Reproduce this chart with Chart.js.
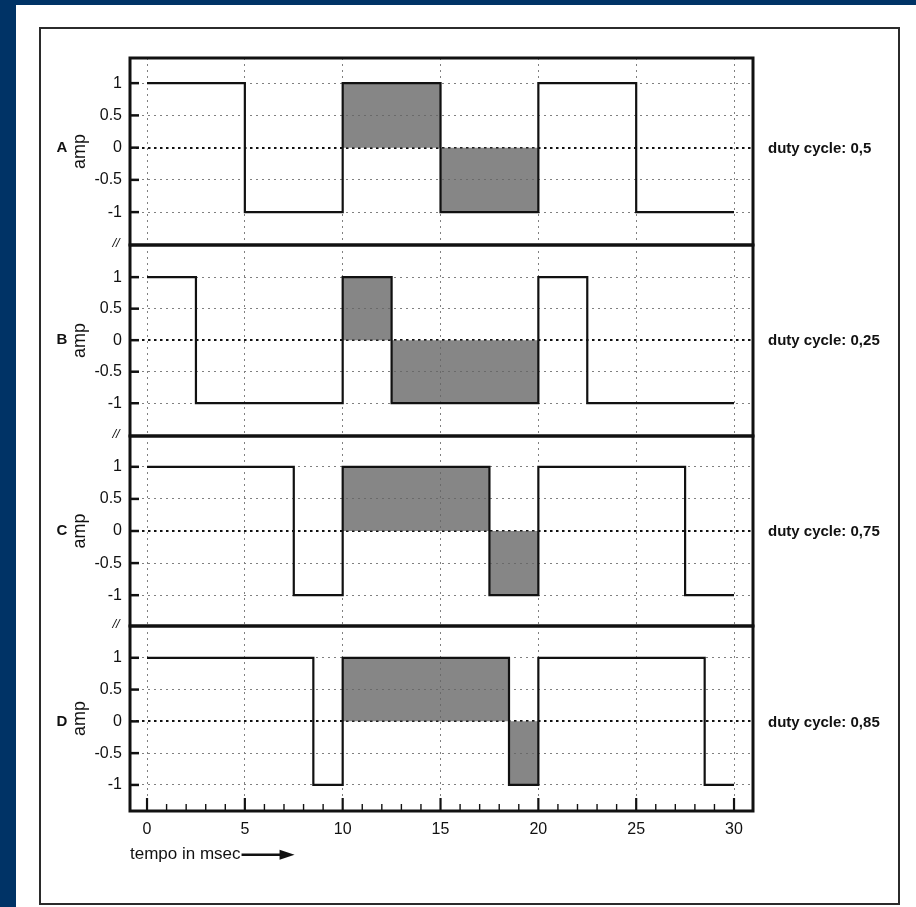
<!DOCTYPE html>
<html>
<head>
<meta charset="utf-8">
<script src="https://cdn.jsdelivr.net/npm/chart.js@4.4.1/dist/chart.umd.min.js"></script>
<style>
html,body{margin:0;padding:0;background:#003366;width:916px;height:907px;overflow:hidden}
#paper{position:absolute;left:16px;top:5px;width:900px;height:902px;background:#fff}
#frame{position:absolute;left:39px;top:27px;width:857px;height:874px;border:2px solid #2b2b2b}
canvas{position:absolute}
</style>
</head>
<body>
<div id="paper"></div>
<div id="frame"></div>
<canvas id="c0"></canvas>
<canvas id="c1"></canvas>
<canvas id="c2"></canvas>
<canvas id="c3"></canvas>
<script>
// ---- data ----
const xTickValues = [0, 5, 10, 15, 20, 25, 30];
const yTickValues = [-1, -0.5, 0, 0.5, 1];
const panelLabels = ['A', 'B', 'C', 'D'];
const dutyLabels = ['duty cycle: 0,5', 'duty cycle: 0,25', 'duty cycle: 0,75', 'duty cycle: 0,85'];
const xTitle = 'tempo in msec';
const yTitle = 'amp';

// square waves: time of each edge and level held from that time on
const edgesA = [0, 5, 10, 15, 20, 25, 30];
const edgesB = [0, 2.5, 10, 12.5, 20, 22.5, 30];
const edgesC = [0, 7.5, 10, 17.5, 20, 27.5, 30];
const edgesD = [0, 8.5, 10, 18.5, 20, 28.5, 30];
const levelsA = [1, -1, 1, -1, 1, -1, -1];
const levelsB = [1, -1, 1, -1, 1, -1, -1];
const levelsC = [1, -1, 1, -1, 1, -1, -1];
const levelsD = [1, -1, 1, -1, 1, -1, -1];

// shaded period (10..20 msec): positive part and negative part
const shadeHighA = [10, 15];   const shadeLowA = [15, 20];
const shadeHighB = [10, 12.5]; const shadeLowB = [12.5, 20];
const shadeHighC = [10, 17.5]; const shadeLowC = [17.5, 20];
const shadeHighD = [10, 18.5]; const shadeLowD = [18.5, 20];

const edges = [edgesA, edgesB, edgesC, edgesD];
const levels = [levelsA, levelsB, levelsC, levelsD];
const highs = [shadeHighA, shadeHighB, shadeHighC, shadeHighD];
const lows = [shadeLowA, shadeLowB, shadeLowC, shadeLowD];

// ---- layout ----
const FONT = "'Liberation Sans', Arial, sans-serif";
const CANVAS_LEFT = 40, CANVAS_W = 860;
const AREA_LEFT = 130, AREA_RIGHT = 753;
const X_MIN = -0.87, X_MAX = 30.97;
const GEOM = [
  {top: 58,  bottom: 245, min: -1.51, max: 1.39},
  {top: 245, bottom: 436, min: -1.52, max: 1.51},
  {top: 436, bottom: 626, min: -1.48, max: 1.48},
  {top: 626, bottom: 811, min: -1.41, max: 1.50}
];

const decor = {
  id: 'decor',
  afterDraw(chart, args, opts) {
    const {ctx, chartArea: a, scales: {x, y}} = chart;
    const i = opts.index;
    ctx.save();
    ctx.strokeStyle = '#111';
    ctx.fillStyle = '#111';
    // inward y tick marks
    ctx.lineWidth = 2.5;
    yTickValues.forEach(v => {
      const py = y.getPixelForValue(v);
      ctx.beginPath(); ctx.moveTo(a.left, py); ctx.lineTo(a.left + 9, py); ctx.stroke();
    });
    // inward x tick marks on bottom panel
    if (i === 3) {
      for (let v = 0; v <= 30; v++) {
        const px = x.getPixelForValue(v);
        const major = v % 5 === 0;
        ctx.lineWidth = major ? 2.2 : 1.4;
        ctx.beginPath(); ctx.moveTo(px, a.bottom); ctx.lineTo(px, a.bottom - (major ? 13 : 7)); ctx.stroke();
      }
      // arrow after axis title
      ctx.font = '17px ' + FONT;
      const w = ctx.measureText(xTitle).width;
      const ty = x.bottom - (17 * 1.2 / 2 + 6);
      const sx = x.left + w + 1;
      ctx.lineWidth = 2.5;
      ctx.beginPath(); ctx.moveTo(sx, ty); ctx.lineTo(sx + 40, ty); ctx.stroke();
      ctx.beginPath(); ctx.moveTo(sx + 38, ty - 5); ctx.lineTo(sx + 53, ty); ctx.lineTo(sx + 38, ty + 5); ctx.closePath(); ctx.fill();
    }
    // frame
    ctx.lineWidth = 3;
    ctx.strokeRect(a.left, a.top, a.right - a.left, a.bottom - a.top);
    // texts
    const y0 = y.getPixelForValue(0);
    ctx.textBaseline = 'middle';
    ctx.textAlign = 'center';
    ctx.font = 'bold 15px ' + FONT;
    ctx.fillText(panelLabels[i], 22, y0);
    ctx.textAlign = 'left';
    ctx.fillText(dutyLabels[i], 728, y0 + 1);
    if (i > 0) {
      ctx.textAlign = 'center';
      ctx.font = 'italic 13px ' + FONT;
      ctx.fillText('//', 76, a.top - 2);
    }
    ctx.restore();
  }
};

function makePanel(i) {
  const g = GEOM[i];
  const isLast = i === 3;
  const padT = 24, padB = isLast ? 0 : 24, xH = isLast ? 60 : 0;
  const H = padT + (g.bottom - g.top) + padB + xH;
  const cv = document.getElementById('c' + i);
  cv.width = CANVAS_W; cv.height = H;
  cv.style.left = CANVAS_LEFT + 'px';
  cv.style.top = (g.top - padT) + 'px';
  cv.style.width = CANVAS_W + 'px';
  cv.style.height = H + 'px';
  const isZero = c => c.tick && c.tick.value === 0;
  new Chart(cv, {
    type: 'line',
    data: {
      datasets: [
        {
          data: edges[i].map((t, k) => ({x: t, y: levels[i][k]})),
          stepped: true, borderColor: '#111', borderWidth: 2.2,
          pointRadius: 0, fill: false
        },
        {
          data: highs[i].map(t => ({x: t, y: 1})),
          fill: 'origin', backgroundColor: 'rgba(100,100,100,0.78)',
          borderColor: 'rgba(0,0,0,0)', borderWidth: 1, pointRadius: 0
        },
        {
          data: lows[i].map(t => ({x: t, y: -1})),
          fill: 'origin', backgroundColor: 'rgba(100,100,100,0.78)',
          borderColor: 'rgba(0,0,0,0)', borderWidth: 1, pointRadius: 0
        }
      ]
    },
    options: {
      responsive: false,
      animation: false,
      devicePixelRatio: 1,
      layout: {padding: {left: 0, right: CANVAS_W - (AREA_RIGHT - CANVAS_LEFT), top: padT, bottom: padB}},
      plugins: {legend: {display: false}, tooltip: {enabled: false}, decor: {index: i}},
      scales: {
        x: {
          type: 'linear', min: X_MIN, max: X_MAX,
          afterBuildTicks: s => { s.ticks = xTickValues.map(v => ({value: v})); },
          afterFit: s => { s.height = xH; },
          grid: {drawTicks: false, color: '#808080', lineWidth: 1},
          border: {display: false, dash: [2, 4]},
          ticks: {display: isLast, padding: 9, font: {family: FONT, size: 16}, color: '#111',
                  maxRotation: 0, autoSkip: false, callback: v => String(v)},
          title: {display: isLast, text: xTitle, align: 'start', color: '#111',
                  font: {family: FONT, size: 17}, padding: {top: 0, bottom: 6}}
        },
        y: {
          type: 'linear', min: g.min, max: g.max,
          afterBuildTicks: s => { s.ticks = yTickValues.map(v => ({value: v})); },
          afterFit: s => { s.width = AREA_LEFT - CANVAS_LEFT; },
          grid: {drawTicks: false,
                 color: c => isZero(c) ? '#111' : '#808080',
                 lineWidth: c => isZero(c) ? 2 : 1},
          border: {display: false, dash: c => isZero(c) ? [2.5, 3.5] : [2, 4]},
          ticks: {padding: 8, font: {family: FONT, size: 16}, color: '#111', callback: v => String(v)},
          title: {display: true, text: yTitle, color: '#111',
                  font: {family: FONT, size: 18}, padding: {top: 29, bottom: 0}}
        }
      }
    },
    plugins: [decor]
  });
}
[0, 1, 2, 3].forEach(makePanel);
</script>
</body>
</html>
